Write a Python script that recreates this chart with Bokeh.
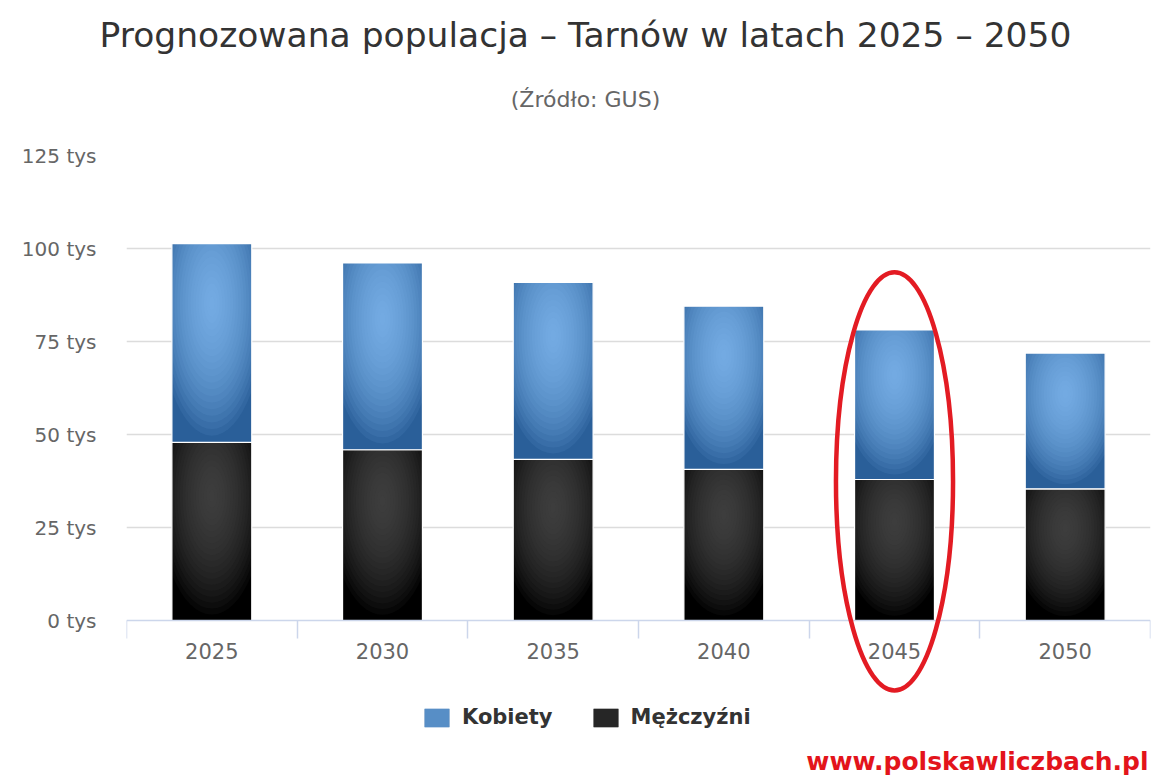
# tarnow_plot.py
#
# Prognozowana populacja - Tarnow 2025 - 2050 (slupki skumulowane)
#
# Basic usage:
#	python3 plot.py   ->   out.html

# ========
# SETTINGS
# ========

# Libraries
import numpy as np
from bokeh import plotting
from bokeh import models
from bokeh.core.properties import value
from bokeh.embed import file_html
from bokeh.resources import INLINE

# Data (tys. osob)
years = [2025, 2030, 2035, 2040, 2045, 2050]
kobiety = [53.4, 50.2, 47.6, 43.9, 40.2, 36.5]
mezczyzni = [47.9, 45.9, 43.3, 40.6, 37.9, 35.4]
yticks = [0, 25, 50, 75, 100, 125]
highlight = 2045

# Texts
title = 'Prognozowana populacja – Tarnów w latach 2025 – 2050'
subtitle = '(Źródło: GUS)'
source = 'www.polskawliczbach.pl'
names = ['Kobiety', 'Mężczyźni']

# Colours (edge, centre of the radial gradient)
blue = ('#2a5f99', '#82bcf2')
black = ('#000000', '#4a4a50')
font = 'DejaVu Sans'

# Page geometry (px): the frame runs below the zero line so the legend fits in it
W, H = 1160, 780
frame = dict(left=126, right=1150, top=155, zero=620, bottom=729)

# ====
# MAIN
# ====

def main():
	'''main'''

	# Vertical scale (px per data unit) and range start below zero
	scale = (frame['zero'] - frame['top']) / yticks[-1]
	ystart = -(frame['bottom'] - frame['zero']) / scale

	# Create figure
	p = plotting.figure(
		width=W, height=H,
		x_range=models.Range1d(years[0] - 2.5, years[-1] + 2.5),
		y_range=models.Range1d(ystart, yticks[-1]),
		output_backend='svg',
		toolbar_location=None,
		tools=''
		)
	p.min_border_left = frame['left']
	p.min_border_right = W - frame['right']
	p.min_border_top = frame['top']
	p.min_border_bottom = H - frame['bottom']

	# Stack
	x = np.array(years)
	men = np.array(mezczyzni)
	women = np.array(kobiety)
	rb = gradient_bars(p, x, np.zeros(len(x)), men, black)
	rk = gradient_bars(p, x, men, men + women, blue)

	# Highlight 2045
	p.ellipse(x=[highlight], y=[37.4], width=3.43, height=112.4,
		fill_color=None, line_color='#e31b23', line_width=4.5, level='overlay')

	# Legend
	legend = models.Legend(
		items=[models.LegendItem(label=names[0], renderers=rk),
			models.LegendItem(label=names[1], renderers=rb)],
		orientation='horizontal', location=(295, 0)
		)
	legend.glyph_width = 31
	legend.glyph_height = 23
	legend.label_standoff = 10
	legend.spacing = 37
	legend.padding = 0
	legend.margin = 0
	legend.border_line_color = None
	legend.background_fill_color = None
	legend.label_text_font = font
	legend.label_text_font_size = '21px'
	legend.label_text_font_style = 'bold'
	legend.label_text_color = '#333333'
	p.add_layout(legend, 'center')

	# Titles (overlay text, not clipped by the frame); y is the text middle
	add_text(p, title, 585, 34, 'center', '34.5px', '#333333')
	add_text(p, subtitle, 585, 98.5, 'center', '22px', '#666666')
	add_text(p, source, 1148, 760.5, 'right', '25px', '#e3141b', 'bold')

	# Tidy
	tidy(p)

	# Save figure
	open('out.html', 'w').write(file_html(p, INLINE))

# ====
# TEXT
# ====

def add_text(p, txt, px, py, align, size, colour, style='normal'):
	'''Text placed by page pixel, converted to data units'''

	# Pixel -> data
	xd = years[0] - 2.5 + (px - frame['left']) * 30 / (frame['right'] - frame['left'])
	yd = yticks[-1] - (py - frame['top']) * yticks[-1] / (frame['zero'] - frame['top'])

	# Add text
	p.text(x=[xd], y=[yd], text=[txt], text_align=align, text_baseline='middle',
		text_font=value(font), text_font_size=size, text_font_style=style,
		text_color=colour, level='overlay')

# =============
# GRADIENT BARS
# =============

def gradient_bars(p, x, bottom, top, colours, n=20):
	'''Stacked bar with a fake radial gradient (nested translucent ellipses cut to the bar)'''

	# Properties
	edge, centre = colours
	width = 2.34
	h = top - bottom
	cy = top - 0.3 * h
	t = np.linspace(0, 2 * np.pi, 61)

	# Base
	base = p.vbar(x=x, bottom=bottom, top=top, width=width, fill_color=edge, line_color=None)
	handles = [base]

	# Layers
	for k in range(1, n + 1):
		r = 0.7 * (1 - k / (n + 1))
		xs = [np.clip(xi + r * width * np.cos(t), xi - width / 2, xi + width / 2).tolist() for xi in x]
		ys = [np.clip(ci + r * hi * np.sin(t), bi, ti).tolist() for ci, hi, bi, ti in zip(cy, h, bottom, top)]
		handles.append(p.patches(xs=xs, ys=ys, fill_color=centre, fill_alpha=0.09, line_color=None))

	# White border
	p.vbar(x=x, bottom=bottom, top=top, width=width, fill_color=None, line_color='white', line_width=1.2)

	# Return handles used in legend swatch
	return handles[:9]

# ====
# TIDY
# ====

def tidy(p):
	'''Axes and grid'''

	# Boundaries between categories
	bounds = list(np.arange(len(years) + 1) * 5 + years[0] - 2.5)

	# X axis, drawn at the zero line
	p.xaxis.fixed_location = 0
	p.xaxis.ticker = models.FixedTicker(ticks=years, minor_ticks=bounds)
	p.xaxis.major_tick_line_color = None
	p.xaxis.major_tick_out = 0
	p.xaxis.major_tick_in = 0
	p.xaxis.minor_tick_line_color = '#ccd6eb'
	p.xaxis.minor_tick_line_width = 1.5
	p.xaxis.minor_tick_out = 18
	p.xaxis.minor_tick_in = 0
	p.xaxis.axis_line_color = '#ccd6eb'
	p.xaxis.axis_line_width = 1.5
	p.xaxis.major_label_standoff = 4
	p.xaxis.major_label_text_font = font
	p.xaxis.major_label_text_font_size = '21px'
	p.xaxis.major_label_text_color = '#666666'

	# Y axis
	p.yaxis.ticker = models.FixedTicker(ticks=yticks)
	p.yaxis.major_label_overrides = {t: str(t) + ' tys' for t in yticks}
	p.yaxis.axis_line_color = None
	p.yaxis.major_tick_line_color = None
	p.yaxis.minor_tick_line_color = None
	p.yaxis.major_tick_out = 0
	p.yaxis.major_label_standoff = 30
	p.yaxis.major_label_text_font = font
	p.yaxis.major_label_text_font_size = '20px'
	p.yaxis.major_label_text_color = '#666666'

	# Grid
	p.xgrid.grid_line_color = None
	p.ygrid.ticker = models.FixedTicker(ticks=yticks[1:])
	p.ygrid.grid_line_color = '#dcdcdc'
	p.ygrid.grid_line_width = 1.5
	p.outline_line_color = None

# ====
# CALL
# ====

# Call
main()

# Done
#
